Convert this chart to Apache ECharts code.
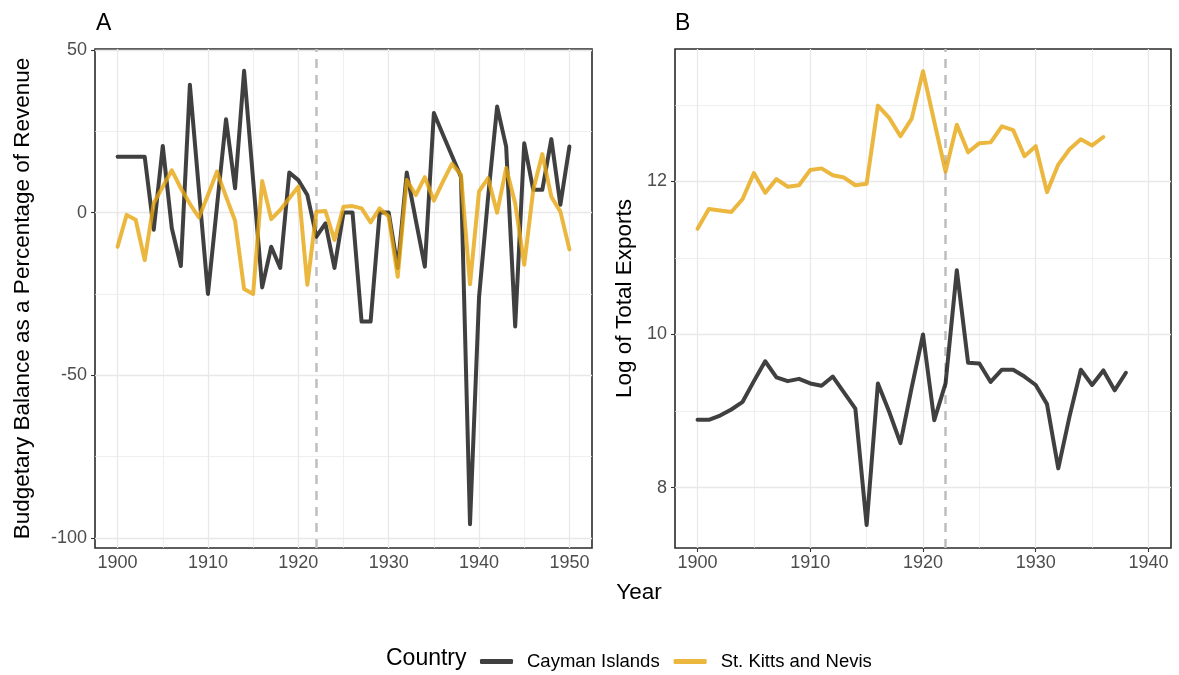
<!DOCTYPE html>
<html>
<head>
<meta charset="utf-8">
<script src="https://cdn.jsdelivr.net/npm/echarts@6/dist/echarts.min.js"></script>
<style>
html,body{margin:0;padding:0;background:#fff;}
#chart{width:1179px;height:675px;}
</style>
</head>
<body>
<div id="chart"></div>
<script>
// ---- data ----
var yearsA = [1900,1901,1902,1903,1904,1905,1906,1907,1908,1909,1910,1911,1912,1913,1914,1915,1916,1917,1918,1919,1920,1921,1922,1923,1924,1925,1926,1927,1928,1929,1930,1931,1932,1933,1934,1935,1936,1937,1938,1939,1940,1941,1942,1943,1944,1945,1946,1947,1948,1949,1950];
var caymanBudget = [17.2,17.2,17.2,17.2,-5.3,20.5,-4.8,-16.4,39.3,7,-25,2,28.7,7.5,43.6,10,-23,-10.5,-17,12.3,10,5.4,-7.4,-3.3,-17,0,0,-33.5,-33.5,0,0,-17,12.3,-2.3,-16.6,30.6,24,17.5,11,-95.8,-26,4.7,32.6,20.3,-35,21.3,7,7,22.6,2.4,20.3];
var kittsBudget = [-10.5,-0.7,-2.2,-14.6,2.9,8,13,7.5,2.7,-1.5,5.4,12.6,4.9,-2.5,-23.5,-25,9.7,-2,0.8,4.4,8,-22.2,0.3,0.5,-8.4,1.8,2,1.3,-3,1.3,-1.2,-19.7,10,5.4,10.9,3.7,9.5,15,11.6,-22,6.5,10.6,0,13.7,2.9,-16,7,18,4.9,0.3,-11.3];

var yearsCaymanB = [1900,1901,1902,1903,1904,1905,1906,1907,1908,1909,1910,1911,1912,1913,1914,1915,1916,1917,1918,1919,1920,1921,1922,1923,1924,1925,1926,1927,1928,1929,1930,1931,1932,1933,1934,1935,1936,1937,1938];
var caymanExports = [8.885,8.885,8.94,9.02,9.12,9.39,9.65,9.44,9.39,9.42,9.36,9.33,9.45,9.24,9.03,7.51,9.36,8.99,8.58,9.31,10.0,8.88,9.36,10.84,9.63,9.62,9.38,9.54,9.54,9.45,9.34,9.09,8.25,8.93,9.54,9.34,9.53,9.27,9.50];
var yearsKittsB = [1900,1901,1902,1903,1904,1905,1906,1907,1908,1909,1910,1911,1912,1913,1914,1915,1916,1917,1918,1919,1920,1921,1922,1923,1924,1925,1926,1927,1928,1929,1930,1931,1932,1933,1934,1935,1936];
var kittsExports = [11.38,11.64,11.62,11.6,11.77,12.11,11.85,12.03,11.93,11.95,12.15,12.17,12.08,12.05,11.95,11.97,12.99,12.83,12.59,12.82,13.44,12.78,12.13,12.74,12.38,12.5,12.51,12.72,12.67,12.33,12.46,11.86,12.22,12.42,12.55,12.47,12.58];

var xTicksA = [1900,1910,1920,1930,1940,1950];
var xMinorA = [1905,1915,1925,1935,1945];
var yTicksA = [-100,-50,0,50];
var yMinorA = [-75,-25,25];
var xTicksB = [1900,1910,1920,1930,1940];
var xMinorB = [1905,1915,1925,1935];
var yTicksB = [8,10,12];
var yMinorB = [9,11,13];
var treatYear = [1922];

var countries = ['Cayman Islands','St. Kitts and Nevis'];
var colors = ['rgba(16,16,16,0.8)','rgba(230,165,15,0.8)'];

function pairs(xs, ys){ return xs.map(function(x,i){return [x, ys[i]];}); }

var FONT = 'Liberation Sans, Arial, Helvetica, sans-serif';
var chart = echarts.init(document.getElementById('chart'), null, {renderer:'canvas'});

function xAxisDef(gi, min, max, ticks){
  return {type:'value', gridIndex:gi, min:min, max:max,
    axisLine:{show:false},
    axisTick:{show:true, length:4, lineStyle:{color:'#333', width:1.1}, customValues:ticks},
    axisLabel:{color:'#4d4d4d', fontSize:18, fontFamily:FONT, margin:6, customValues:ticks,
      formatter:function(v){return String(v);}},
    splitLine:{show:false}, minorSplitLine:{show:false}};
}
function yAxisDef(gi, min, max, ticks, name, gap){
  return {type:'value', gridIndex:gi, min:min, max:max,
    name:name, nameLocation:'middle', nameGap:gap, nameRotate:90,
    nameTextStyle:{color:'#000', fontSize:22.5, fontFamily:FONT},
    axisLine:{show:false},
    axisTick:{show:true, length:4, lineStyle:{color:'#333', width:1.1}, customValues:ticks},
    axisLabel:{color:'#4d4d4d', fontSize:18, fontFamily:FONT, margin:8, customValues:ticks,
      formatter:function(v){return String(v);}},
    splitLine:{show:false}, minorSplitLine:{show:false}};
}
function gridSeries(gi, xMaj, xMin, yMaj, yMin){
  var d = [];
  xMin.forEach(function(v){ d.push({xAxis:v, lineStyle:{width:0.7}}); });
  yMin.forEach(function(v){ d.push({yAxis:v, lineStyle:{width:0.7}}); });
  xMaj.forEach(function(v){ d.push({xAxis:v, lineStyle:{width:1.3}}); });
  yMaj.forEach(function(v){ d.push({yAxis:v, lineStyle:{width:1.3}}); });
  return {type:'line', xAxisIndex:gi, yAxisIndex:gi, data:[], z:1, silent:true,
    markLine:{silent:true, symbol:'none', animation:false, label:{show:false},
      lineStyle:{color:'#e8e8e8', type:'solid'}, data:d}};
}
function vline(gi){
  return {type:'line', xAxisIndex:gi, yAxisIndex:gi, data:[], z:10, silent:true,
    markLine:{silent:true, symbol:'none', animation:false, label:{show:false},
      lineStyle:{color:'#bebebe', type:[9,7], width:2.5},
      data: treatYear.map(function(v){return {xAxis:v};})}};
}
function dataSeries(gi, name, data, color){
  return {type:'line', name:name, xAxisIndex:gi, yAxisIndex:gi, data:data, z:5,
    showSymbol:false, symbol:'none', animation:false,
    lineStyle:{color:color, width:4, cap:'round', join:'round'},
    itemStyle:{color:color}};
}

var option = {
  backgroundColor:'#fff',
  animation:false,
  textStyle:{fontFamily:FONT},
  grid:[
    {left:95, top:49, width:497, height:499, show:true, borderColor:'#2a2a2a', borderWidth:1.6, backgroundColor:'#fff'},
    {left:675, top:49, width:496, height:499, show:true, borderColor:'#2a2a2a', borderWidth:1.6, backgroundColor:'#fff'}
  ],
  xAxis:[xAxisDef(0,1897.5,1952.5,xTicksA), xAxisDef(1,1898,1942,xTicksB)],
  yAxis:[yAxisDef(0,-103.1,50.3,yTicksA,'Budgetary Balance as a Percentage of Revenue',61),
         yAxisDef(1,7.21,13.73,yTicksB,'Log of Total Exports',39)],
  title:[
    {text:'A', left:91, top:7, textStyle:{fontSize:23, fontWeight:'normal', color:'#000', fontFamily:FONT}},
    {text:'B', left:670, top:7, textStyle:{fontSize:23, fontWeight:'normal', color:'#000', fontFamily:FONT}},
    {text:'Year', left:634, top:576, textAlign:'center', textStyle:{fontSize:22.5, fontWeight:'normal', color:'#000', fontFamily:FONT}},
    {text:'Country', left:381, top:642, textStyle:{fontSize:23, fontWeight:'normal', color:'#000', fontFamily:FONT}}
  ],
  legend:{left:475, top:647, icon:'roundRect', itemWidth:33, itemHeight:5, itemGap:14,
    textStyle:{fontSize:18.5, color:'#000', fontFamily:FONT, padding:[0,0,0,9]},
    data:countries},
  series:[
    gridSeries(0,xTicksA,xMinorA,yTicksA,yMinorA),
    gridSeries(1,xTicksB,xMinorB,yTicksB,yMinorB),
    dataSeries(0,countries[0],pairs(yearsA,caymanBudget),colors[0]),
    dataSeries(0,countries[1],pairs(yearsA,kittsBudget),colors[1]),
    dataSeries(1,countries[0],pairs(yearsCaymanB,caymanExports),colors[0]),
    dataSeries(1,countries[1],pairs(yearsKittsB,kittsExports),colors[1]),
    vline(0), vline(1)
  ]
};
chart.setOption(option);
</script>
</body>
</html>
